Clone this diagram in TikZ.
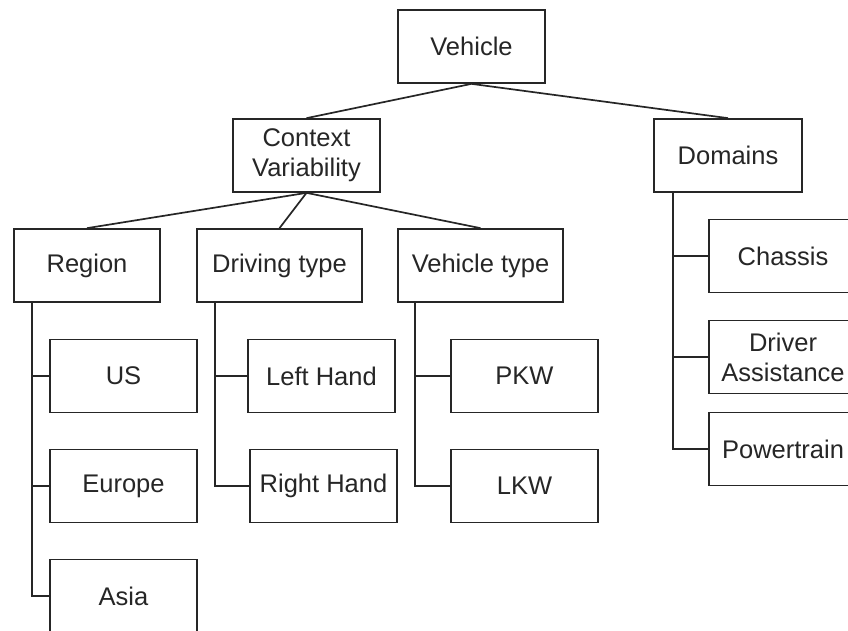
\documentclass[tikz,border=0pt]{standalone}
\usepackage{fontspec}
\setmainfont{Liberation Sans}
\begin{document}
\begin{tikzpicture}[x=1pt,y=-1pt,
  box/.style={draw=black!85, line width=1.7pt, fill=white, rectangle,
    minimum height=73pt, inner sep=0pt, align=center,
    font=\fontsize{25.5}{30}\selectfont, text=black!85},
  link/.style={draw=black!85, line width=1.7pt},
  every node/.append style={anchor=center}]
\useasboundingbox (0,0) rectangle (848,630);
\begin{scope}
\clip (0,0) rectangle (848,630);
% top levels
\node[box, minimum width=147pt] (veh) at (471.5,46.5) {Vehicle};
\node[box, minimum width=147pt] (ctx) at (306.5,155.5) {Context\\Variability};
\node[box, minimum width=148pt] (dom) at (728,155.5) {Domains};
% context branches
\node[box, minimum width=146pt] (reg) at (87,265.5) {Region};
\node[box, minimum width=165pt] (drv) at (279.5,265.5) {Driving type};
\node[box, minimum width=165pt] (vty) at (480.5,265.5) {Vehicle type};
% region leaves
\node[box, minimum width=147pt] (us) at (123.5,376) {US};
\node[box, minimum width=147pt] (eu) at (123.5,486) {Europe};
\node[box, minimum width=147pt] (as) at (123.5,596) {Asia};
% driving type leaves
\node[box, minimum width=147pt] (lh) at (321.5,376) {Left Hand};
\node[box, minimum width=147pt] (rh) at (323.5,486) {Right Hand};
% vehicle type leaves
\node[box, minimum width=147pt] (pkw) at (524.5,376) {PKW};
\node[box, minimum width=147pt] (lkw) at (524.5,486) {LKW};
% domain leaves
\node[box, minimum width=148pt] (cha) at (783,256) {Chassis};
\node[box, minimum width=148pt] (das) at (783,357) {Driver\\Assistance};
\node[box, minimum width=148pt] (pwt) at (783,449) {Powertrain};

% tree links
\draw[link] (veh.south) -- (ctx.north);
\draw[link] (veh.south) -- (dom.north);
\draw[link] (ctx.south) -- (reg.north);
\draw[link] (ctx.south) -- (drv.north);
\draw[link] (ctx.south) -- (vty.north);

% orthogonal child links
\coordinate (regbus) at (32,302);
\coordinate (drvbus) at (215,302);
\coordinate (vtybus) at (415,302);
\coordinate (dombus) at (673,192);
\draw[link] (regbus) |- (us.west);
\draw[link] (regbus) |- (eu.west);
\draw[link] (regbus) |- (as.west);
\draw[link] (drvbus) |- (lh.west);
\draw[link] (drvbus) |- (rh.west);
\draw[link] (vtybus) |- (pkw.west);
\draw[link] (vtybus) |- (lkw.west);
\draw[link] (dombus) |- (cha.west);
\draw[link] (dombus) |- (das.west);
\draw[link] (dombus) |- (pwt.west);
\end{scope}
\end{tikzpicture}
\end{document}
